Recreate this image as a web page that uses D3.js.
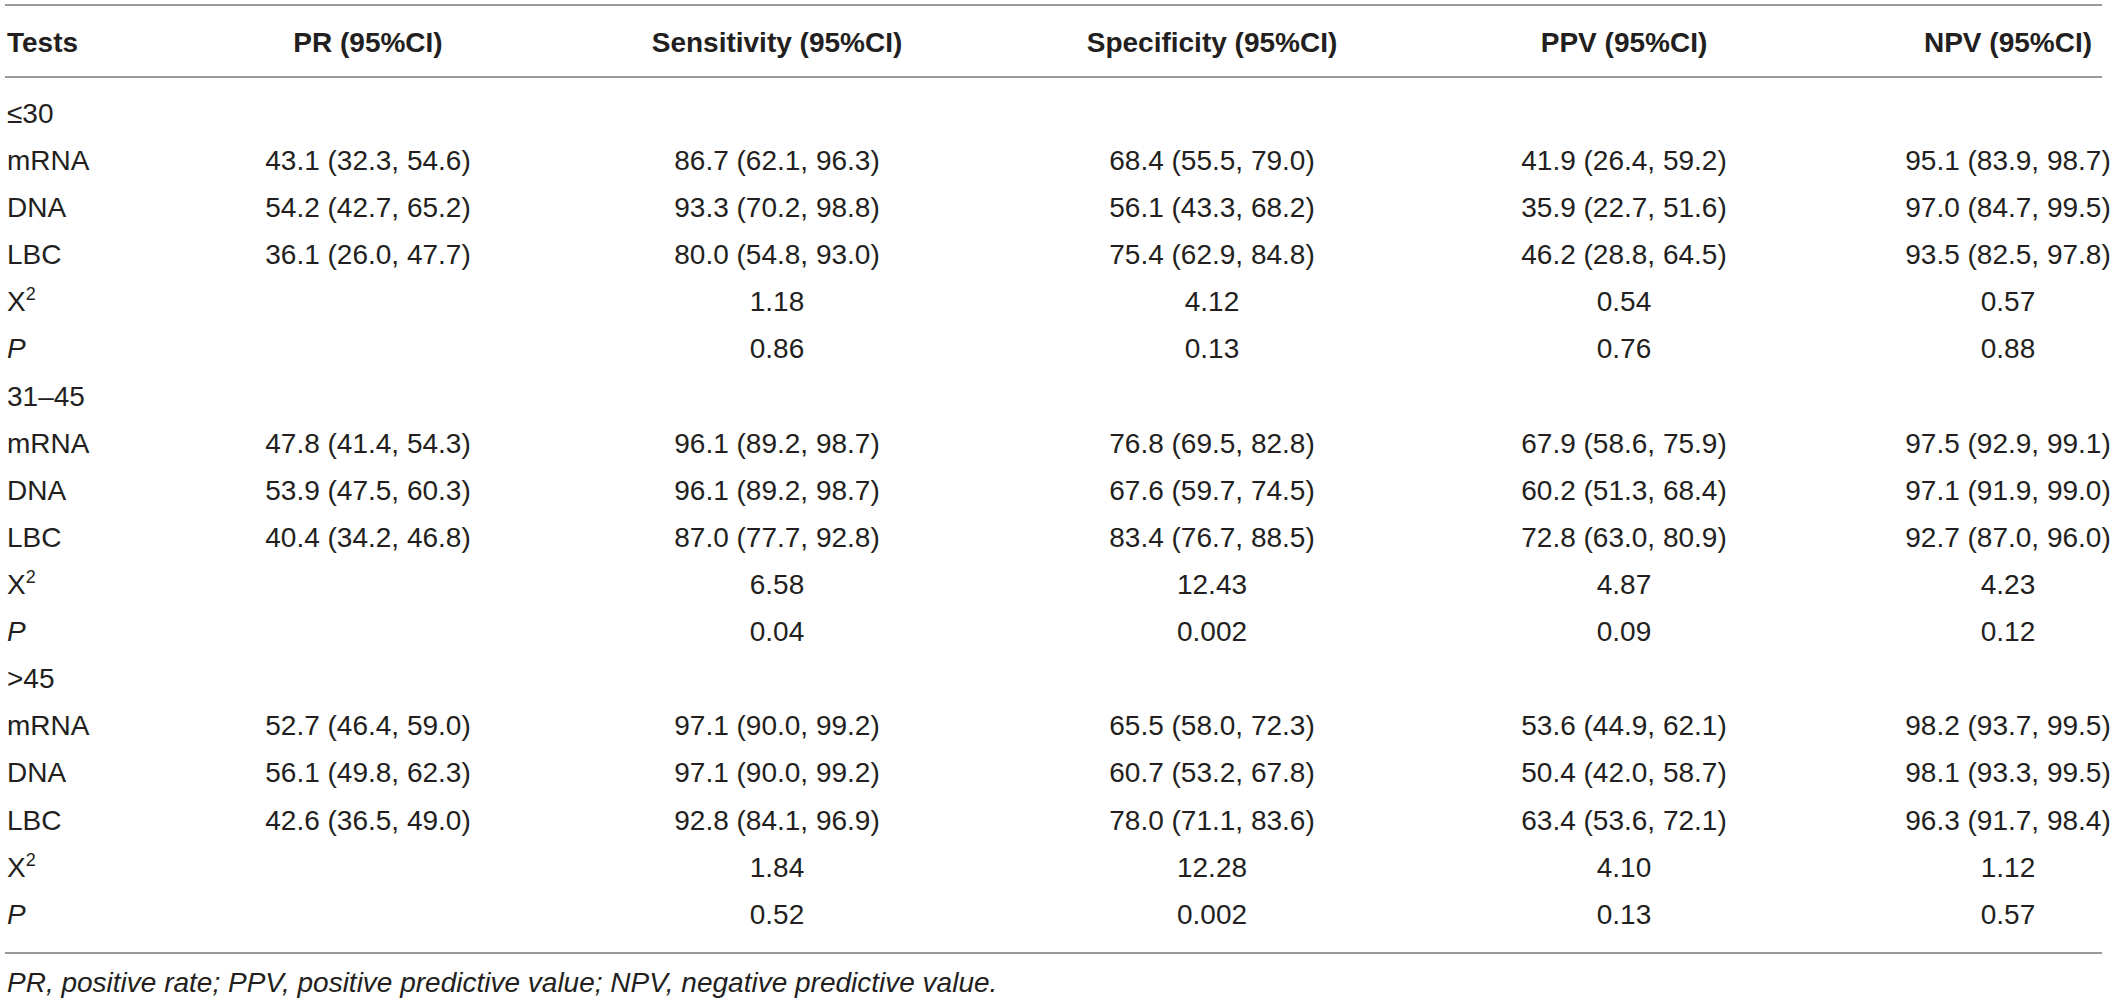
<!DOCTYPE html>
<html>
<head>
<meta charset="utf-8">
<script src="https://cdn.jsdelivr.net/npm/d3@7"></script>
<style>
  body { margin: 0; background: #fff; }
  svg { display: block; font-family: "Liberation Sans", Arial, Helvetica, sans-serif; }
</style>
</head>
<body>
<div id="table"></div>
<script>
// column headers
const headers = ["Tests", "PR (95%CI)", "Sensitivity (95%CI)", "Specificity (95%CI)", "PPV (95%CI)", "NPV (95%CI)"];

// age groups and row labels
const groups = ["\u226430", "31\u201345", ">45"];
const tests = ["mRNA", "DNA", "LBC"];

// values per group: rows mRNA, DNA, LBC, then X2 and P (PR column empty)
const ageLe30 = [
  ["43.1 (32.3, 54.6)", "86.7 (62.1, 96.3)", "68.4 (55.5, 79.0)", "41.9 (26.4, 59.2)", "95.1 (83.9, 98.7)"],
  ["54.2 (42.7, 65.2)", "93.3 (70.2, 98.8)", "56.1 (43.3, 68.2)", "35.9 (22.7, 51.6)", "97.0 (84.7, 99.5)"],
  ["36.1 (26.0, 47.7)", "80.0 (54.8, 93.0)", "75.4 (62.9, 84.8)", "46.2 (28.8, 64.5)", "93.5 (82.5, 97.8)"]
];
const age31to45 = [
  ["47.8 (41.4, 54.3)", "96.1 (89.2, 98.7)", "76.8 (69.5, 82.8)", "67.9 (58.6, 75.9)", "97.5 (92.9, 99.1)"],
  ["53.9 (47.5, 60.3)", "96.1 (89.2, 98.7)", "67.6 (59.7, 74.5)", "60.2 (51.3, 68.4)", "97.1 (91.9, 99.0)"],
  ["40.4 (34.2, 46.8)", "87.0 (77.7, 92.8)", "83.4 (76.7, 88.5)", "72.8 (63.0, 80.9)", "92.7 (87.0, 96.0)"]
];
const ageGt45 = [
  ["52.7 (46.4, 59.0)", "97.1 (90.0, 99.2)", "65.5 (58.0, 72.3)", "53.6 (44.9, 62.1)", "98.2 (93.7, 99.5)"],
  ["56.1 (49.8, 62.3)", "97.1 (90.0, 99.2)", "60.7 (53.2, 67.8)", "50.4 (42.0, 58.7)", "98.1 (93.3, 99.5)"],
  ["42.6 (36.5, 49.0)", "92.8 (84.1, 96.9)", "78.0 (71.1, 83.6)", "63.4 (53.6, 72.1)", "96.3 (91.7, 98.4)"]
];
const chiSquare = [
  ["", "1.18", "4.12", "0.54", "0.57"],
  ["", "6.58", "12.43", "4.87", "4.23"],
  ["", "1.84", "12.28", "4.10", "1.12"]
];
const pValues = [
  ["", "0.86", "0.13", "0.76", "0.88"],
  ["", "0.04", "0.002", "0.09", "0.12"],
  ["", "0.52", "0.002", "0.13", "0.57"]
];
const footnote = "PR, positive rate; PPV, positive predictive value; NPV, negative predictive value.";

const width = 2118, height = 1001;
const fontSize = 28;
const ink = "#231f20";

// flatten into rows
const blocks = [ageLe30, age31to45, ageGt45];
const rows = [];
groups.forEach((g, gi) => {
  rows.push({ label: g, kind: "group", cells: [] });
  tests.forEach((t, ti) => rows.push({ label: t, kind: "test", cells: blocks[gi][ti] }));
  rows.push({ label: "X", kind: "chi", cells: chiSquare[gi] });
  rows.push({ label: "P", kind: "p", cells: pValues[gi] });
});

const svg = d3.select("#table").append("svg")
  .attr("width", width)
  .attr("height", height);

// row positions
const y = d3.scalePoint()
  .domain(d3.range(rows.length))
  .range([113, 914]);

// column centres (first column is left aligned)
const colX = d3.scaleOrdinal()
  .domain(d3.range(headers.length))
  .range([7, 368, 777, 1212, 1624, 2008]);

// rules
const rules = [5, 77, 953];
svg.append("g").selectAll("line")
  .data(rules)
  .join("line")
  .attr("x1", 5).attr("x2", 2102)
  .attr("y1", d => d).attr("y2", d => d)
  .attr("stroke", "#9a9a9a")
  .attr("stroke-width", 2);

// header
svg.append("g").selectAll("text")
  .data(headers)
  .join("text")
  .attr("x", (d, i) => colX(i))
  .attr("y", 42)
  .attr("dy", "0.35em")
  .attr("text-anchor", (d, i) => i === 0 ? "start" : "middle")
  .attr("font-size", fontSize)
  .attr("font-weight", "bold")
  .attr("fill", ink)
  .text(d => d);

// body rows
const rowG = svg.append("g").selectAll("g")
  .data(rows)
  .join("g")
  .attr("transform", (d, i) => `translate(0,${y(i)})`);

const labels = rowG.append("text")
  .attr("x", colX(0))
  .attr("dy", "0.35em")
  .attr("font-size", fontSize)
  .attr("fill", ink)
  .attr("font-style", d => d.kind === "p" ? "italic" : "normal");

labels.filter(d => d.kind !== "chi").text(d => d.label);
labels.filter(d => d.kind === "chi").each(function () {
  const t = d3.select(this);
  t.append("tspan").text("X");
  t.append("tspan")
    .attr("font-size", 18)
    .attr("dy", "-0.6em")
    .text("2");
});

rowG.selectAll("text.cell")
  .data(d => d.cells)
  .join("text")
  .attr("class", "cell")
  .attr("x", (d, i) => colX(i + 1))
  .attr("dy", "0.35em")
  .attr("text-anchor", "middle")
  .attr("font-size", fontSize)
  .attr("fill", ink)
  .text(d => d);

// footnote
svg.append("text")
  .attr("x", 7)
  .attr("y", 982)
  .attr("dy", "0.35em")
  .attr("font-size", fontSize)
  .attr("font-style", "italic")
  .attr("fill", ink)
  .text(footnote);
</script>
</body>
</html>
